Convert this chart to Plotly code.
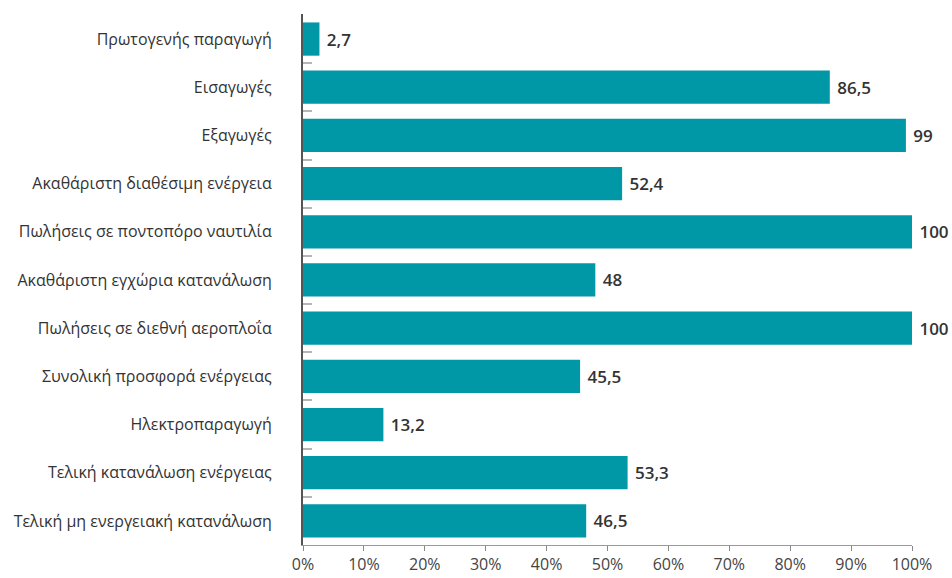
import plotly.graph_objects as go

categories = [
    "Πρωτογενής παραγωγή",
    "Εισαγωγές",
    "Εξαγωγές",
    "Ακαθάριστη διαθέσιμη ενέργεια",
    "Πωλήσεις σε ποντοπόρο ναυτιλία",
    "Ακαθάριστη εγχώρια κατανάλωση",
    "Πωλήσεις σε διεθνή αεροπλοΐα",
    "Συνολική προσφορά ενέργειας",
    "Ηλεκτροπαραγωγή",
    "Τελική κατανάλωση ενέργειας",
    "Τελική μη ενεργειακή κατανάλωση",
]
values = [2.7, 86.5, 99, 52.4, 100, 48, 100, 45.5, 13.2, 53.3, 46.5]
value_labels = ["2,7", "86,5", "99", "52,4", "100", "48", "100", "45,5", "13,2", "53,3", "46,5"]
x_ticks = [0, 10, 20, 30, 40, 50, 60, 70, 80, 90, 100]
x_tick_labels = [f"{t}%" for t in x_ticks]

FONT = "'Open Sans', sans-serif"

fig = go.Figure(
    go.Bar(
        x=values,
        y=categories,
        orientation="h",
        marker=dict(color="#0097A7", line=dict(width=0)),
        text=value_labels,
        texttemplate="\u00a0%{text}",
        textposition="outside",
        cliponaxis=False,
        textfont=dict(family=FONT, size=17, color="#333333", weight=600),
    )
)

fig.update_layout(
    width=952,
    height=578,
    margin=dict(l=303, r=40, t=14, b=33),
    plot_bgcolor="white",
    paper_bgcolor="white",
    bargap=0.31,
    showlegend=False,
    font=dict(family=FONT, size=16, color="#333333"),
    separators=",.",
)

fig.update_xaxes(
    range=[0, 100],
    tickvals=x_ticks,
    ticktext=x_tick_labels,
    automargin=False,
    showgrid=False,
    zeroline=False,
    showline=True,
    linecolor="#999999",
    linewidth=1,
    ticks="outside",
    ticklen=5,
    tickcolor="#888888",
    tickfont=dict(family=FONT, size=16, color="#444444"),
)

fig.update_yaxes(
    categoryorder="array",
    categoryarray=categories[::-1],
    range=[-0.5, 10.52],
    automargin=False,
    showgrid=False,
    zeroline=False,
    showline=True,
    linecolor="#555555",
    linewidth=2,
    ticks="inside",
    ticklen=9,
    tickwidth=2,
    tickcolor="#b5b5b5",
    tickson="boundaries",
    ticklabelstandoff=26,
    tickfont=dict(family=FONT, size=16, color="#333333"),
)

fig.write_html(
    "out.html",
    config={"displayModeBar": False},
    post_script="document.body.style.margin='0';document.body.style.overflow='hidden';",
)
